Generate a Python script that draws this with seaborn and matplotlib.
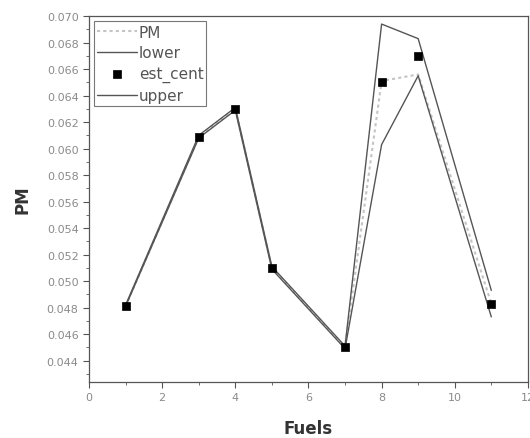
import matplotlib
matplotlib.use("Agg")
import matplotlib.pyplot as plt
import numpy as np
import pandas as pd
import seaborn as sns
from matplotlib.ticker import MultipleLocator, FormatStrFormatter

sns.set_theme(style="ticks")
plt.rcParams["font.family"] = ["DejaVu Sans"]

fuels = [1, 3, 4, 5, 7, 8, 9, 11]
pm = [0.0481, 0.0609, 0.0630, 0.0510, 0.0450, 0.0651, 0.0656, 0.0483]
lower = [0.0481, 0.0608, 0.0629, 0.0509, 0.0449, 0.0603, 0.0655, 0.0473]
est_cent = [0.0481, 0.0609, 0.0630, 0.0510, 0.0450, 0.0650, 0.0670, 0.0483]
upper = [0.0482, 0.0610, 0.0631, 0.0511, 0.0451, 0.0694, 0.0683, 0.0493]

df = pd.DataFrame({"Fuels": fuels, "PM": pm, "lower": lower,
                   "est_cent": est_cent, "upper": upper})

fig = plt.figure(figsize=(5.3, 4.39), dpi=100)
ax = fig.add_axes([0.168, 0.128, 0.828, 0.833])

sns.lineplot(data=df, x="Fuels", y="PM", ax=ax, color="#c4c4c4", lw=1.5,
             linestyle=(0, (1.5, 1.5)), label="PM")
sns.lineplot(data=df, x="Fuels", y="lower", ax=ax, color="#555555", lw=1.0,
             label="lower")
sns.scatterplot(data=df, x="Fuels", y="est_cent", ax=ax, color="black",
                marker="s", s=36, edgecolor="black", linewidth=0.5,
                label="est_cent", zorder=5)
sns.lineplot(data=df, x="Fuels", y="upper", ax=ax, color="#555555", lw=1.0,
             label="upper")

ax.set_xlim(0, 12)
ax.set_ylim(0.0424, 0.070)
ax.xaxis.set_major_locator(MultipleLocator(2))
ax.xaxis.set_minor_locator(MultipleLocator(1))
ax.yaxis.set_major_locator(MultipleLocator(0.002))
ax.yaxis.set_minor_locator(MultipleLocator(0.001))
ax.yaxis.set_major_formatter(FormatStrFormatter("%.3f"))
ax.tick_params(axis="both", which="major", direction="out", length=4,
               width=0.8, labelsize=8, labelcolor="#8a8a8a", color="#555555")
ax.tick_params(axis="both", which="minor", direction="out", length=2,
               width=0.6, color="#555555")
ax.tick_params(top=False, right=False, which="both")
for s in ax.spines.values():
    s.set_color("#555555")
    s.set_linewidth(0.9)

ax.set_xlabel("Fuels", fontsize=12, fontweight="bold", color="#333333",
              labelpad=12)
ax.set_ylabel("PM", fontsize=12, fontweight="bold", color="#333333",
              labelpad=11)

leg = ax.legend(loc="upper left", fontsize=11, frameon=True, fancybox=False,
                edgecolor="#555555", borderpad=0.2, labelspacing=0.38,
                handlelength=2.6, handletextpad=0.1, borderaxespad=0.35)
leg.get_frame().set_linewidth(0.8)
for t in leg.get_texts():
    t.set_color("#555555")

fig.savefig("out.png", dpi=100)
